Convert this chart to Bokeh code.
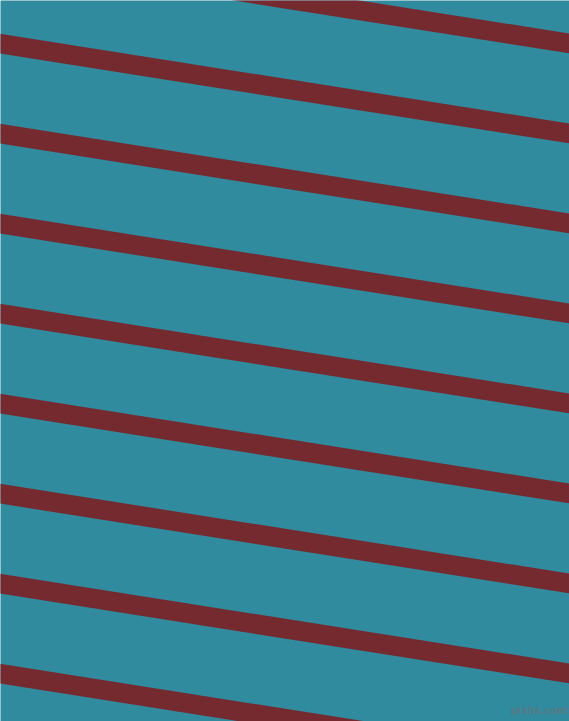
from bokeh.plotting import figure
from bokeh.models import Range1d
from bokeh.core.properties import value
from bokeh.embed import file_html
from bokeh.resources import INLINE

# Data (pixel units of the 569x721 image, y downward)
stripe_index = [-1, 0, 1, 2, 3, 4, 5, 6, 7, 8]
first_center = 43.3      # centre of stripe 0 at x = 0
period = 90.0            # vertical spacing between stripes
slope = 0.1575           # drop per pixel of x
thickness = 19.8         # vertical thickness of a stripe
image_w = 569
image_h = 721
watermark = ["pixlis.com"]

bg_color = "#318B9F"
stripe_color = "#752A30"

p = figure(width=image_w, height=image_h, output_backend="svg", toolbar_location=None,
           x_range=Range1d(0, image_w),
           y_range=Range1d(image_h, 0),
           min_border=0, background_fill_color=bg_color,
           border_fill_color=bg_color)
p.axis.visible = False
p.grid.visible = False
p.outline_line_color = None

xs, ys = [], []
x0, x1 = -20, image_w + 20
for k in stripe_index:
    c = first_center + period * k
    y0 = c + slope * x0
    y1 = c + slope * x1
    xs.append([x0, x1, x1, x0])
    ys.append([y0 - thickness / 2, y1 - thickness / 2, y1 + thickness / 2, y0 + thickness / 2])

p.patches(xs, ys, fill_color=stripe_color, line_color=None)

p.text(x=[image_w - 2], y=[image_h - 6], text=watermark,
       text_align="right", text_baseline="bottom",
       text_font=value("DejaVu Sans"), text_font_size="10px", text_font_style="bold",
       text_color="#5b7880", text_alpha=0.9)

open("out.html", "w").write(file_html(p, INLINE))
